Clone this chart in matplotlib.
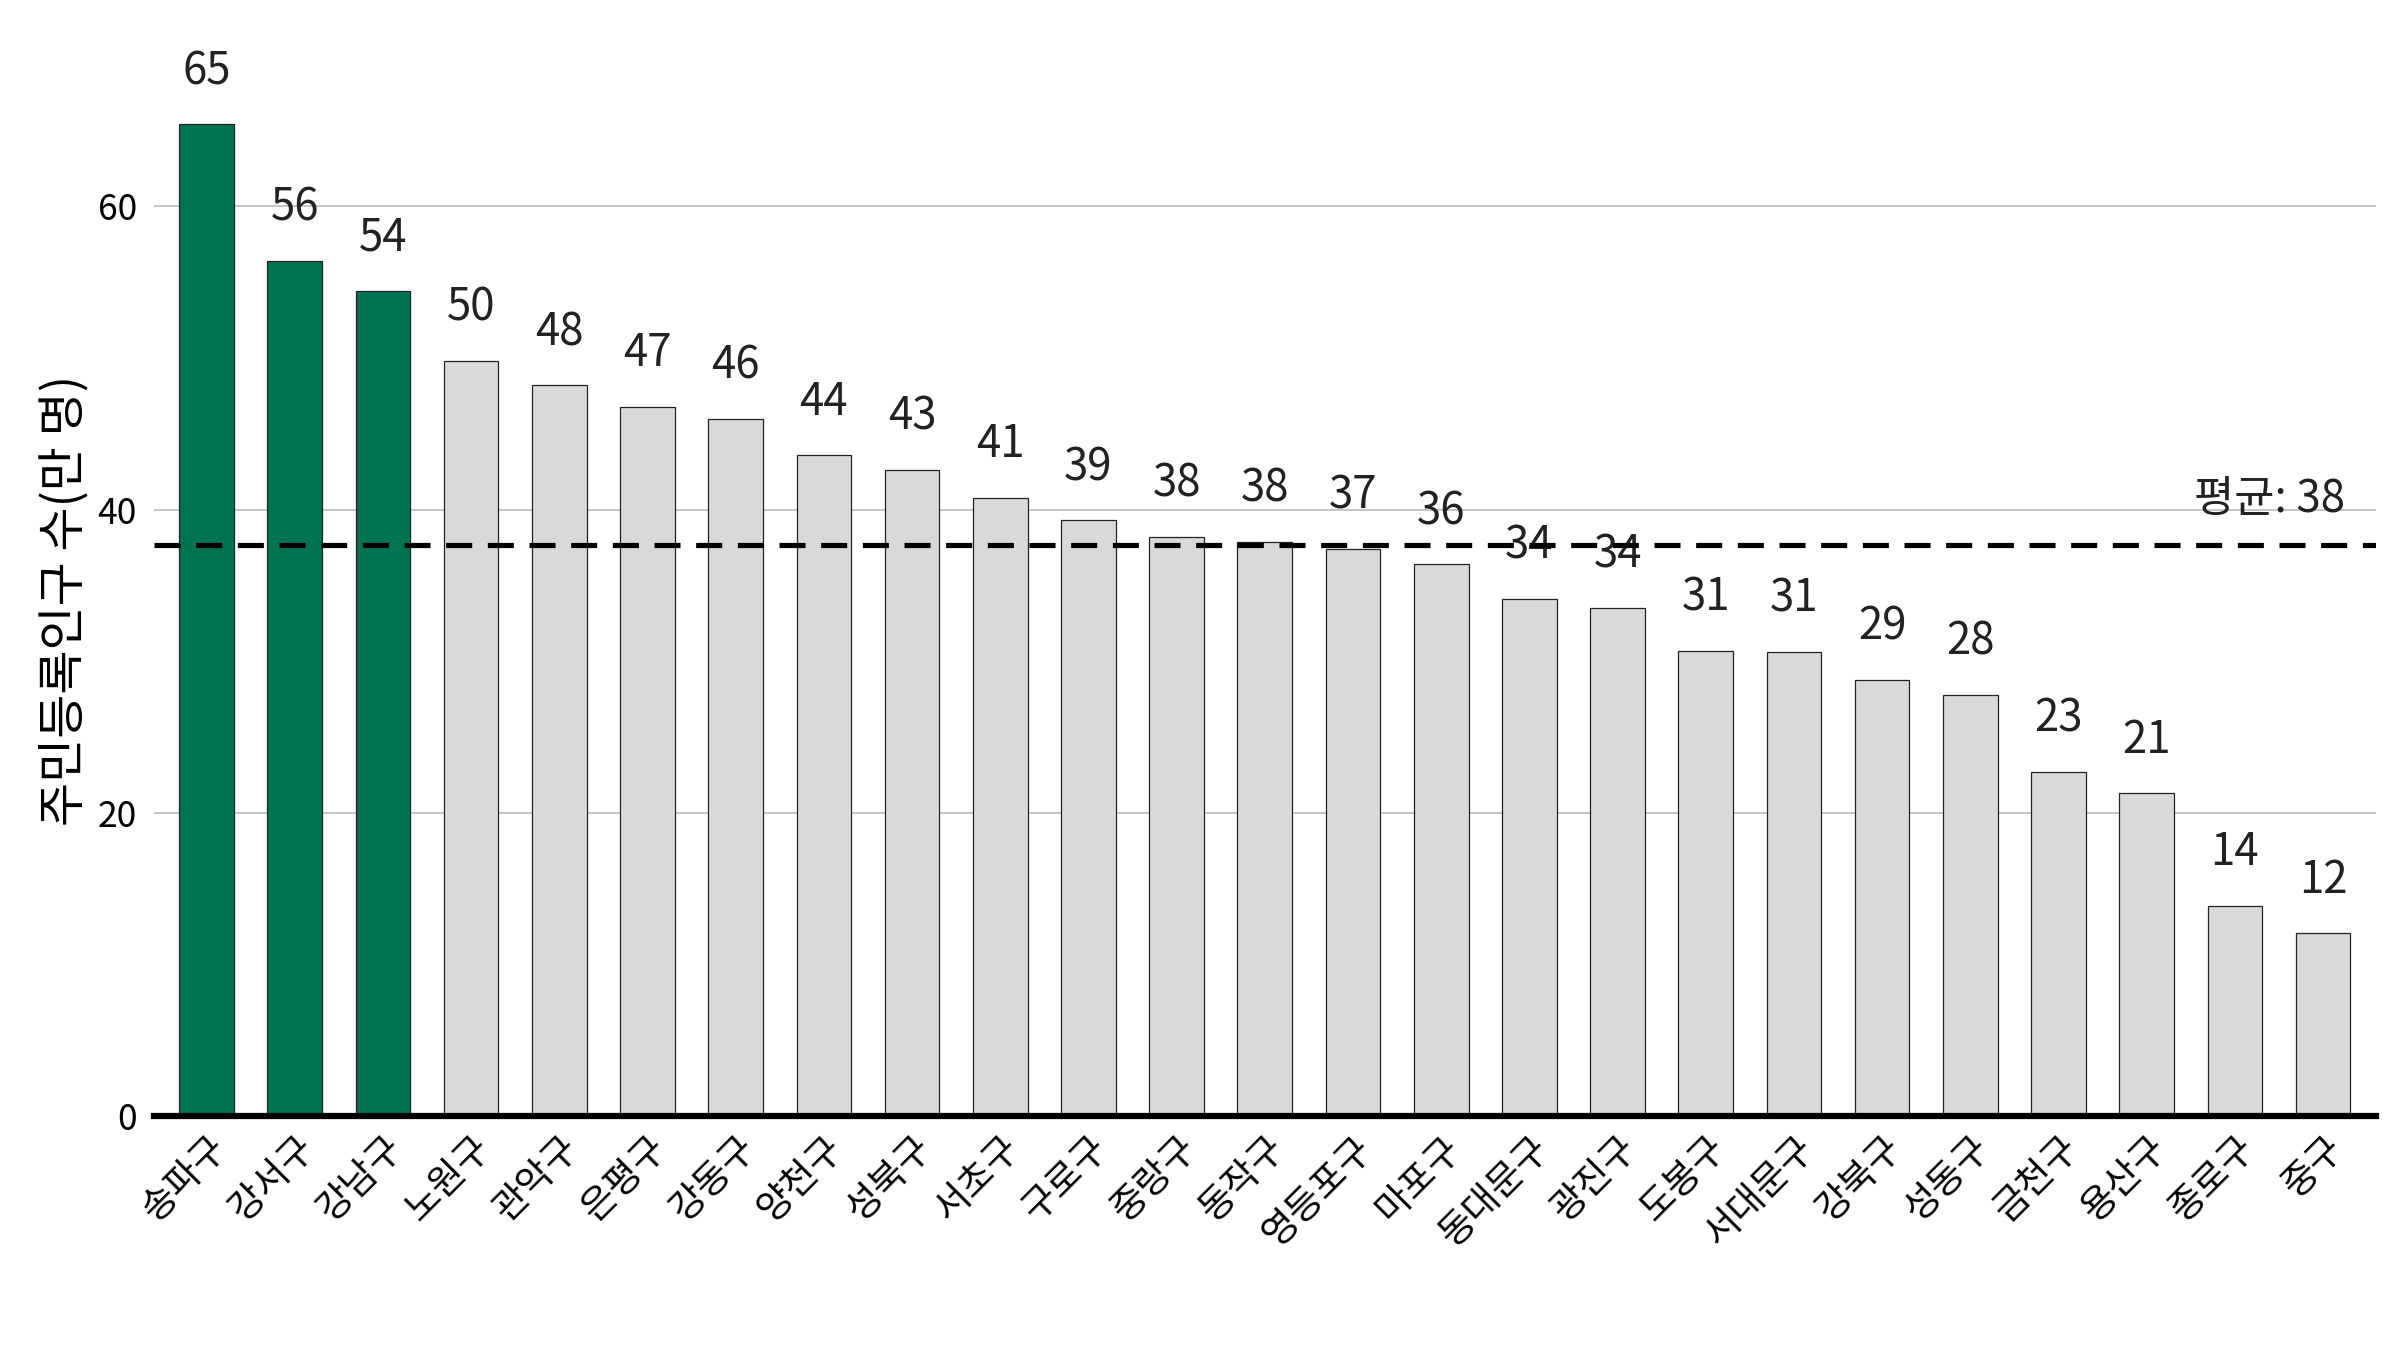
import matplotlib
matplotlib.use('Agg')
import matplotlib.pyplot as plt

plt.rcParams['font.family'] = ['Noto Sans CJK KR', 'DejaVu Sans']

districts = ['송파구', '강서구', '강남구', '노원구', '관악구', '은평구', '강동구', '양천구', '성북구', '서초구',
             '구로구', '중랑구', '동작구', '영등포구', '마포구', '동대문구', '광진구', '도봉구', '서대문구', '강북구',
             '성동구', '금천구', '용산구', '종로구', '중구']
population = [65.4, 56.4, 54.4, 49.8, 48.2, 46.8, 46.0, 43.6, 42.6, 40.8,
              39.3, 38.2, 37.9, 37.4, 36.4, 34.1, 33.5, 30.7, 30.6, 28.8,
              27.8, 22.7, 21.3, 13.9, 12.1]
highlight = 3
mean_value = 37.7

fig = plt.figure(figsize=(16, 9), dpi=150)
ax = fig.add_axes([0.064, 0.173, 0.926, 0.764])

colors = ['#007352' if i < highlight else '#d9d9d9' for i in range(len(districts))]
x = range(len(districts))
ax.bar(x, population, width=0.62, color=colors, edgecolor='#222222', linewidth=0.6, zorder=3)
for i, v in enumerate(population):
    ax.text(i, v + 2, f'{v:.0f}', ha='center', va='bottom', fontsize=21, color='#222222', zorder=4)

ax.axhline(mean_value, color='black', linestyle=(0, (5, 3)), linewidth=2.5, zorder=5)
ax.text(len(districts) - 0.75, mean_value + 1.5, f'평균: {mean_value:.0f}', ha='right', va='bottom',
        fontsize=21, color='#222222')

ax.set_xlim(-0.6, len(districts) - 0.4)
ax.set_ylim(0, 68)
ax.set_yticks([0, 20, 40, 60])
ax.yaxis.grid(True, color='#bbbbbb', linewidth=0.8, zorder=0)
for s in ['top', 'right', 'left']:
    ax.spines[s].set_visible(False)
ax.spines['bottom'].set_linewidth(3)
ax.spines['bottom'].set_zorder(6)
ax.tick_params(axis='y', length=0, labelsize=17, pad=8)
ax.tick_params(axis='x', length=0, labelsize=18, pad=6)
ax.set_xticks(list(x))
ax.set_xticklabels(districts, rotation=45, ha='right', rotation_mode='anchor')
ax.set_ylabel('주민등록인구 수(만 명)', fontsize=23, labelpad=4)

fig.savefig('out.png', dpi=150)
